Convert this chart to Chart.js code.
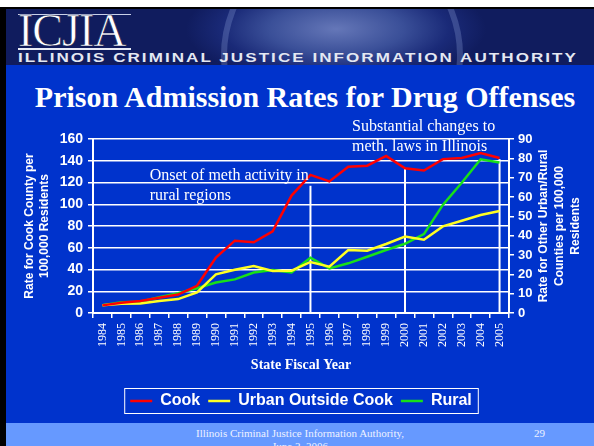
<!DOCTYPE html>
<html>
<head>
<meta charset="utf-8">
<script src="https://cdn.jsdelivr.net/npm/chart.js@4/dist/chart.umd.min.js"></script>
<style>
  html, body { margin: 0; padding: 0; }
  body { width: 594px; height: 446px; position: relative; overflow: hidden; background: #ffffff; }
  .slide { position: absolute; left: 0; top: 7px; width: 594px; height: 439px; background: #0033cc; }
  .edge { position: absolute; left: 0; top: 7px; width: 6px; height: 439px; background: #000000; z-index: 5; }
  .banner {
    position: absolute; left: 6px; top: 7px; width: 588px; height: 56px; overflow: hidden; border-top: 2px solid #000;
    background: radial-gradient(ellipse 150px 55px at 330px 20px, #6577b8 0%, #3a4f98 45%, #1a2a78 75%, #101c5e 100%);
  }
  .seal {
    position: absolute; left: 215px; top: -75px; width: 230px; height: 230px; border-radius: 50%;
    border: 6px solid rgba(140, 160, 215, 0.30);
  }
  .logo {
    position: absolute; left: 12px; top: -1px; font-family: 'Liberation Serif', serif; font-size: 46px;
    color: #ffffff; line-height: 46px; -webkit-text-stroke: 0.6px #0b1446; letter-spacing: -1px;
  }
  .logo-bar { position: absolute; left: 12px; top: 39px; width: 113px; height: 2px; background: #e8ecf6; }
  .logo-top { position: absolute; left: 12px; top: 5px; width: 113px; height: 1px; background: #c8d0e8; }
  .authority {
    position: absolute; left: 12px; top: 42px; font-family: 'Liberation Sans', sans-serif; font-weight: bold;
    font-size: 12.5px; color: #e4e8f2; white-space: nowrap; line-height: 14px; letter-spacing: 1.5px;
    transform-origin: 0 50%;
  }
  .title {
    position: absolute; left: 8px; width: 594px; top: 79px; text-align: center;
    font-family: 'Liberation Serif', serif; font-weight: bold; font-size: 30px; color: #ffffff; line-height: 36px;
  }
  .footer { position: absolute; left: 0; top: 423px; width: 594px; height: 23px; background: #6699ff; }
  .foot-text {
    position: absolute; left: 6px; width: 588px; top: 427px; text-align: center;
    font-family: 'Liberation Serif', serif; font-size: 11px; color: #eef2ff; line-height: 13px;
  }
  .foot-num { position: absolute; left: 534px; top: 427px; font-family: 'Liberation Serif', serif; font-size: 11px; color: #eef2ff; line-height: 13px; }
  #chartBox { position: absolute; left: 0; top: 110px; width: 594px; height: 312px; }
</style>
</head>
<body>
<div class="slide"></div>
<div class="banner">
  <div class="seal"></div>
  <div class="logo-top"></div>
  <div class="logo">ICJIA</div>
  <div class="logo-bar"></div>
  <div class="authority" id="authority">ILLINOIS CRIMINAL JUSTICE INFORMATION AUTHORITY</div>
</div>
<div class="edge"></div>
<div class="title">Prison Admission Rates for Drug Offenses</div>
<div class="footer"></div>
<div class="foot-text">Illinois Criminal Justice Information Authority,<br>June 2, 2006</div>
<div class="foot-num">29</div>
<div id="chartBox"><canvas id="rates"></canvas></div>

<script>
// state fiscal years on the x axis
const years = ['1984', '1985', '1986', '1987', '1988', '1989', '1990', '1991', '1992', '1993', '1994',
               '1995', '1996', '1997', '1998', '1999', '2000', '2001', '2002', '2003', '2004', '2005'];

// Cook County rate (left axis, per 100,000)
const cookRates = [7, 9.5, 11, 14, 17, 25, 51, 66.5, 65, 75, 108, 127, 121, 134.5, 135.5, 144.5, 133, 131, 141.5, 142.5, 147, 142.5];

// other counties (right axis, per 100,000)
const urbanRates = [4.0, 4.8, 4.9, 6.2, 7.2, 10.7, 20, 22.4, 24.3, 21.7, 21.9, 26.4, 24, 32.6, 32.2, 35.7, 39.5, 37.9, 44.8, 47.7, 50.7, 52.8];
const ruralRates = [4.0, 5.6, 5.8, 8.1, 10.2, 12.8, 15.8, 17.4, 20.9, 22.2, 21, 28.6, 23.1, 25.7, 29.1, 32.6, 35.8, 40.8, 55.9, 67.4, 79.5, 77.8];

// vertical marker lines: year and the Cook-axis value where each line stops
const markerYears = ['1995', '2000', '2005'];
const markerTops = [117, 133, 141.5];

// text notes on the plot
const noteLines = [['Onset of meth activity in', 'rural regions'], ['Substantial changes to', 'meth. laws in Illinois']];
const noteAnchors = [2.5, 13.2];     // category index of the left edge
const noteLevels = [126, 171];       // Cook-axis value of the first line

const rightTitle = ['Rate for Other Urban/Rural', 'Counties per 100,000', 'Residents'];

// stretch the banner text across the banner (the original face is an extended one)
(function fitAuthority() {
  const el = document.getElementById('authority');
  const w = el.getBoundingClientRect().width;
  el.style.transform = 'scaleX(' + (560 / w) + ')';
})();

const slideExtras = {
  id: 'slideExtras',
  beforeDatasetsDraw(chart) {
    const {ctx, scales: {x, yCook}} = chart;
    ctx.save();
    ctx.strokeStyle = '#ffffff';
    ctx.lineWidth = 2;
    markerYears.forEach((yr, i) => {
      const px = x.getPixelForValue(years.indexOf(yr));
      ctx.beginPath();
      ctx.moveTo(px, yCook.getPixelForValue(markerTops[i]));
      ctx.lineTo(px, yCook.bottom);
      ctx.stroke();
    });
    ctx.restore();
  },
  afterDraw(chart) {
    const {ctx, scales: {x, yCook, yOther}} = chart;
    ctx.save();
    ctx.fillStyle = '#ffffff';
    ctx.font = '16px "Liberation Serif"';
    ctx.textBaseline = 'middle';
    ctx.textAlign = 'left';
    noteLines.forEach((lines, i) => {
      const px = x.getPixelForValue(noteAnchors[i]);
      const py = yCook.getPixelForValue(noteLevels[i]);
      lines.forEach((line, j) => ctx.fillText(line, px, py + j * 20));
    });

    // right axis title reads bottom to top like the left one
    ctx.font = 'bold 12px "Liberation Sans"';
    ctx.textAlign = 'center';
    const cy = (chart.chartArea.top + chart.chartArea.bottom) / 2;
    rightTitle.forEach((line, j) => {
      ctx.save();
      ctx.translate(yOther.left + 35 + j * 16, cy);
      ctx.rotate(-Math.PI / 2);
      ctx.fillText(line, 0, 0);
      ctx.restore();
    });

    // frame round the legend
    const boxes = chart.legend.legendHitBoxes;
    if (boxes && boxes.length) {
      const l = Math.min(...boxes.map(b => b.left)) - 6;
      const r = Math.max(...boxes.map(b => b.left + b.width)) + 6;
      const t = boxes[0].top - 5;
      const b = boxes[0].top + boxes[0].height + 4;
      ctx.strokeStyle = '#ffffff';
      ctx.lineWidth = 1;
      ctx.strokeRect(l + 0.5, t + 0.5, r - l, b - t);
    }
    ctx.restore();
  }
};

const ctx = document.getElementById('rates').getContext('2d');
new Chart(ctx, {
  type: 'line',
  data: {
    labels: years,
    datasets: [
      { label: 'Cook', data: cookRates, yAxisID: 'yCook', borderColor: '#ff0000', backgroundColor: '#ff0000', borderWidth: 2.5, pointRadius: 0, tension: 0 },
      { label: 'Urban Outside Cook', data: urbanRates, yAxisID: 'yOther', borderColor: '#ffff22', backgroundColor: '#ffff22', borderWidth: 2.5, pointRadius: 0, tension: 0 },
      { label: 'Rural', data: ruralRates, yAxisID: 'yOther', borderColor: '#18e018', backgroundColor: '#18e018', borderWidth: 2.5, pointRadius: 0, tension: 0 }
    ]
  },
  options: {
    responsive: true,
    maintainAspectRatio: false,
    animation: false,
    layout: { padding: { top: 29, left: 0, right: 0, bottom: 3 } },
    plugins: {
      tooltip: { enabled: false },
      legend: {
        position: 'bottom',
        fullSize: false,
        labels: {
          color: '#ffffff',
          font: { family: 'Liberation Sans', size: 16, weight: 'bold' },
          usePointStyle: true,
          pointStyle: 'line',
          pointStyleWidth: 22,
          boxHeight: 16,
          padding: 8
        }
      }
    },
    scales: {
      x: {
        offset: true,
        afterFit(scale) { scale.height = 72; },
        grid: { offset: true, drawOnChartArea: false, drawTicks: true, tickLength: 5, color: '#ffffff', lineWidth: 1.5 },
        border: { color: '#ffffff', width: 2 },
        ticks: { color: '#ffffff', minRotation: 90, maxRotation: 90, autoSkip: false, padding: 5, font: { family: 'Liberation Serif', size: 12 } },
        title: { display: true, text: 'State Fiscal Year', color: '#ffffff', font: { family: 'Liberation Serif', size: 14, weight: 'bold' }, padding: { top: 4, bottom: 11 } }
      },
      yCook: {
        position: 'left',
        min: 0, max: 160,
        afterFit(scale) { scale.width = 93; },
        ticks: { stepSize: 20, color: '#ffffff', padding: 5, font: { family: 'Liberation Sans', size: 14, weight: 'bold' } },
        grid: { color: '#ffffff', lineWidth: 1.5, tickLength: 5 },
        border: { color: '#ffffff', width: 2 },
        title: {
          display: true, text: ['Rate for Cook County per', '100,000 Residents'], color: '#ffffff',
          font: { family: 'Liberation Sans', size: 12, weight: 'bold', lineHeight: 1.25 }, padding: { top: 22, bottom: 0 }
        }
      },
      yOther: {
        position: 'right',
        min: 0, max: 90,
        afterFit(scale) { scale.width = 85; },
        ticks: { stepSize: 10, color: '#ffffff', padding: 4, font: { family: 'Liberation Sans', size: 13, weight: 'bold' } },
        grid: { drawOnChartArea: false, color: '#ffffff', lineWidth: 1.5, tickLength: 5 },
        border: { color: '#ffffff', width: 2 }
      }
    }
  },
  plugins: [slideExtras]
});
</script>
</body>
</html>
